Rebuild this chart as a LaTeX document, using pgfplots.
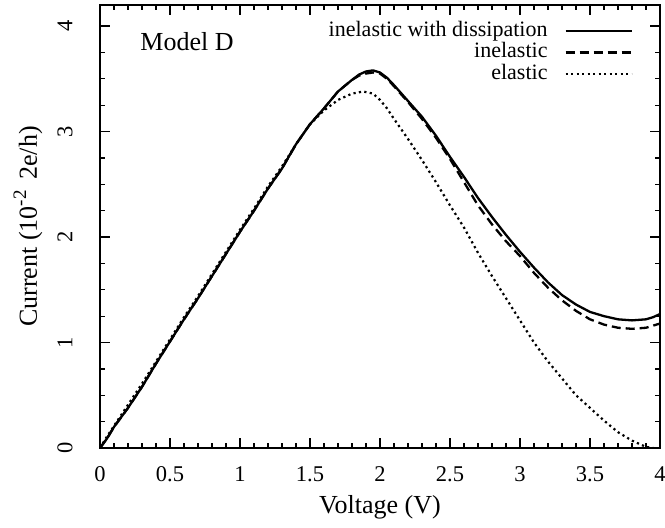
\documentclass[border=0pt]{standalone}
\usepackage{fontspec}
\setmainfont{Liberation Serif}
\usepackage{pgfplots}
\pgfplotsset{compat=1.18}
\begin{document}
\begin{tikzpicture}
\begin{axis}[
  width=560pt, height=443pt, scale only axis,
  xmin=0, xmax=4, ymin=0, ymax=4.2,
  xtick={0,0.5,...,4}, ytick={0,1,2,3,4},
  minor x tick num=4, minor y tick num=3,
  tick align=inside, axis line style={line width=1.8pt},
  major tick length=10pt, minor tick length=5pt,
  tick style={black, line width=1.3pt},
  /pgf/number format/assume math mode=true,
  xticklabel style={font=\fontsize{22.5}{24}\selectfont, anchor=center, yshift=-26pt},
  yticklabel style={font=\fontsize{22.5}{24}\selectfont, rotate=90, anchor=center, yshift=35pt},
  xticklabel={\pgfmathprintnumber{\tick}},
  xlabel={Voltage (V)}, ylabel={Current (10\raisebox{0.42em}{\fontsize{19}{19}\selectfont -2}\, 2e/h)},
  label style={font=\fontsize{26}{28}\selectfont},
  xlabel style={at={(axis description cs:0.5,0)}, anchor=center, yshift=-59pt},
  ylabel style={at={(axis description cs:0,0.5)}, anchor=center, yshift=72pt},
  legend style={draw=none, fill=none, at={(axis description cs:1,1)}, anchor=north east,
    xshift=-27pt, yshift=-15pt, inner sep=0pt,
    font=\fontsize{22}{22}\selectfont, row sep=0pt, column sep=16pt,
    nodes={inner sep=1pt, text height=15pt, text depth=4.5pt},
    legend cell align=right},
  legend plot pos=right,
  legend image code/.code={\draw[#1] (0pt,0pt) -- (66pt,0pt);},
]
\addplot[black, line width=2.3pt, line join=round] coordinates {
(0,0) (0.05,0.09) (0.1,0.2) (0.15,0.29) (0.2,0.38) (0.3,0.58) (0.4,0.8) (0.5,1.01)
(0.6,1.22) (0.7,1.42) (0.8,1.63) (0.9,1.84) (1.0,2.05) (1.1,2.25) (1.2,2.46) (1.3,2.65)
(1.4,2.88) (1.5,3.07) (1.6,3.22) (1.7,3.38) (1.8,3.49) (1.85,3.54) (1.9,3.57) (1.95,3.58)
(2.0,3.56) (2.05,3.51) (2.1,3.44) (2.2,3.29) (2.3,3.14) (2.4,2.96) (2.5,2.76) (2.6,2.57)
(2.7,2.37) (2.8,2.19) (2.9,2.02) (3.0,1.86) (3.1,1.71) (3.2,1.57) (3.3,1.45) (3.4,1.36)
(3.5,1.29) (3.6,1.25) (3.7,1.22) (3.8,1.21) (3.9,1.22) (3.95,1.24) (4.0,1.27)
};
\addlegendentry{inelastic with dissipation}
\addplot[black, line width=2.3pt, dash pattern=on 9pt off 5pt] coordinates {
(0,0) (0.05,0.09) (0.1,0.2) (0.15,0.29) (0.2,0.38) (0.3,0.58) (0.4,0.8) (0.5,1.01)
(0.6,1.22) (0.7,1.42) (0.8,1.63) (0.9,1.84) (1.0,2.05) (1.1,2.25) (1.2,2.46) (1.3,2.65)
(1.4,2.88) (1.5,3.07) (1.6,3.22) (1.7,3.38) (1.8,3.49) (1.85,3.53) (1.9,3.55) (1.95,3.56)
(2.0,3.55) (2.05,3.50) (2.1,3.43) (2.2,3.28) (2.3,3.12) (2.4,2.94) (2.5,2.74) (2.6,2.52)
(2.7,2.30) (2.8,2.12) (2.9,1.96) (3.0,1.82) (3.1,1.66) (3.2,1.52) (3.3,1.40) (3.4,1.30)
(3.5,1.22) (3.6,1.17) (3.7,1.14) (3.8,1.13) (3.9,1.14) (4.0,1.18)
};
\addlegendentry{inelastic}
\addplot[black, line width=2.2pt, dash pattern=on 2.2pt off 3.3pt] coordinates {
(0,0) (0.05,0.11) (0.1,0.21) (0.2,0.41) (0.3,0.61) (0.4,0.82) (0.5,1.03) (0.6,1.24)
(0.7,1.44) (0.8,1.65) (0.9,1.86) (1.0,2.07) (1.1,2.27) (1.2,2.48) (1.3,2.67) (1.4,2.88)
(1.5,3.07) (1.6,3.2) (1.7,3.3) (1.8,3.36) (1.88,3.38) (1.95,3.36) (2.0,3.30) (2.05,3.22)
(2.1,3.12) (2.2,2.93) (2.3,2.73) (2.4,2.52) (2.5,2.30) (2.6,2.09) (2.7,1.85) (2.8,1.63)
(2.9,1.42) (3.0,1.21) (3.1,1.00) (3.2,0.82) (3.3,0.66) (3.4,0.50) (3.5,0.38) (3.6,0.26)
(3.7,0.15) (3.8,0.07) (3.9,0.01) (4.0,-0.01)
};
\addlegendentry{elastic}
\node[anchor=base west, font=\fontsize{26}{28}\selectfont] at (axis description cs:0.066,0.898) {Model D};
\end{axis}
\pgfresetboundingbox
\path[use as bounding box] ([xshift=-100pt,yshift=-79pt]current axis.south west) rectangle ([xshift=5pt,yshift=5pt]current axis.north east);
\end{tikzpicture}
\end{document}
